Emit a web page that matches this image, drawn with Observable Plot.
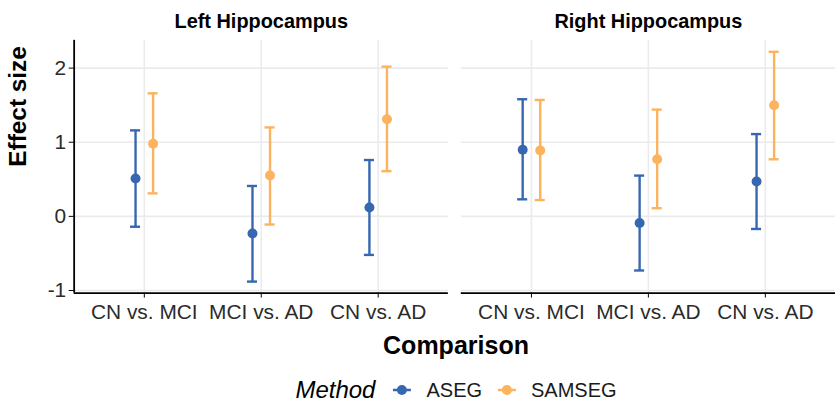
<!DOCTYPE html>
<html>
<head>
<meta charset="utf-8">
<script src="https://cdn.jsdelivr.net/npm/d3@7"></script>
<script src="https://cdn.jsdelivr.net/npm/@observablehq/plot@0.6"></script>
<style>
  html, body { margin: 0; padding: 0; background: #fff; overflow: hidden; }
  #wrap { position: relative; width: 835px; height: 402px; overflow: hidden;
          font-family: "Liberation Sans", Arial, Helvetica, sans-serif; color: #000; }
  #chart { position: absolute; left: 0; top: 0; }
  #xlabel { position: absolute; top: 333px; left: 456px; transform: translateX(-50%);
            font-size: 25px; font-weight: bold; line-height: 1; white-space: nowrap; }
  #legend { position: absolute; top: 380px; left: 456px; transform: translateX(-50%);
            display: flex; align-items: center; height: 20px; white-space: nowrap; }
  #legend .title { font-size: 24px; font-style: italic; line-height: 20px; margin-right: 15px; padding-right: 2px; }
  #legend .label { font-size: 20px; line-height: 20px; color: #1a1a1a; }
  #legend svg { display: block; margin-right: 15px; }
  #legend .gap { width: 15px; }
</style>
</head>
<body>
<div id="wrap">
  <div id="chart"></div>
  <div id="xlabel"></div>
  <div id="legend"></div>
</div>
<script>
// Facet panels, comparisons and segmentation methods
const panels = ["Left Hippocampus", "Right Hippocampus"];
const comparisons = ["CN vs. MCI", "MCI vs. AD", "CN vs. AD"];
const methods = ["ASEG", "SAMSEG"];
const methodColors = ["#3767b1", "#fbb35d"];

// Effect sizes with lower / upper interval bounds, per comparison
const leftAsegEst = [0.51, -0.23, 0.12];
const leftAsegLo = [-0.14, -0.88, -0.52];
const leftAsegHi = [1.16, 0.41, 0.76];
const leftSamsegEst = [0.98, 0.55, 1.31];
const leftSamsegLo = [0.31, -0.11, 0.61];
const leftSamsegHi = [1.66, 1.20, 2.02];

const rightAsegEst = [0.90, -0.09, 0.47];
const rightAsegLo = [0.23, -0.73, -0.17];
const rightAsegHi = [1.58, 0.55, 1.11];
const rightSamsegEst = [0.89, 0.77, 1.50];
const rightSamsegLo = [0.22, 0.11, 0.77];
const rightSamsegHi = [1.57, 1.44, 2.22];

const yTicks = [-1, 0, 1, 2];
const xTitle = "Comparison";
const yTitle = "Effect size";
const legendTitle = "Method";

// Long table built from the arrays above
const series = [
  {panel: panels[0], method: methods[0], est: leftAsegEst, lo: leftAsegLo, hi: leftAsegHi},
  {panel: panels[0], method: methods[1], est: leftSamsegEst, lo: leftSamsegLo, hi: leftSamsegHi},
  {panel: panels[1], method: methods[0], est: rightAsegEst, lo: rightAsegLo, hi: rightAsegHi},
  {panel: panels[1], method: methods[1], est: rightSamsegEst, lo: rightSamsegLo, hi: rightSamsegHi}
];
const rows = series.flatMap(s => comparisons.map((c, i) => ({
  panel: s.panel, method: s.method, comparison: c, index: i,
  est: s.est[i], lo: s.lo[i], hi: s.hi[i]
})));

// Discrete x positions with ggplot-like expansion, dodge and error-bar cap width
const dodge = 0.075;
const capHalf = 0.043;
const xpos = d => d.index + (methods.indexOf(d.method) === 0 ? -dodge : dodge);

// y domain: data range expanded by 5% on each side
const yMin = d3.min(rows, d => d.lo), yMax = d3.max(rows, d => d.hi);
const yPad = (yMax - yMin) * 0.05;
const yDomain = [yMin - yPad, yMax + yPad];

const font = '"Liberation Sans", Arial, Helvetica, sans-serif';

const marks = [
  Plot.gridX({ticks: [0, 1, 2], stroke: "#ebebeb", strokeOpacity: 1, strokeWidth: 1.6}),
  Plot.gridY({ticks: yTicks, stroke: "#ebebeb", strokeOpacity: 1, strokeWidth: 1.6})
];

methods.forEach((m, k) => {
  const data = rows.filter(d => d.method === m);
  const color = methodColors[k];
  marks.push(
    Plot.ruleX(data, {x: xpos, y1: "lo", y2: "hi", fx: "panel", stroke: color, strokeWidth: 2.4}),
    Plot.ruleY(data, {y: "hi", x1: d => xpos(d) - capHalf, x2: d => xpos(d) + capHalf, fx: "panel", stroke: color, strokeWidth: 2.4}),
    Plot.ruleY(data, {y: "lo", x1: d => xpos(d) - capHalf, x2: d => xpos(d) + capHalf, fx: "panel", stroke: color, strokeWidth: 2.4}),
    Plot.dot(data, {x: xpos, y: "est", fx: "panel", r: 5, fill: color, stroke: "none"})
  );
});

marks.push(
  // axis lines: bottom on every panel, left on the first panel only
  Plot.ruleY([yDomain[0]], {stroke: "#000", strokeWidth: 1.8}),
  Plot.ruleX([{panel: panels[0]}], {x: () => -0.6, fx: "panel", stroke: "#000", strokeWidth: 1.8}),
  Plot.axisX({ticks: [0, 1, 2], tickFormat: i => comparisons[i], tickSize: 5, tickPadding: 6,
              fontSize: 21, label: null, stroke: "#000", fill: "#2b2b2b"}),
  Plot.axisY({ticks: yTicks, tickFormat: d => d, tickSize: 5, tickPadding: 3,
              fontSize: 21, label: null, stroke: "#000", fill: "#2b2b2b"}),
  // panel strip titles
  Plot.text(panels, {fx: d => d, text: d => d, frameAnchor: "top", dy: -19, lineAnchor: "middle",
                     fontWeight: "bold", fontSize: 20, fill: "#000"}),
  // y axis title
  Plot.text([yTitle], {fx: () => panels[0], text: d => d, frameAnchor: "left", rotate: -90,
                       dx: -56, lineAnchor: "middle", fontWeight: "bold", fontSize: 24.5, fill: "#000"})
);

const chart = Plot.plot({
  width: 839,
  height: 330,
  marginLeft: 73,
  marginRight: 0,
  marginTop: 40,
  marginBottom: 36,
  style: {fontFamily: font, background: "#fff", overflow: "visible"},
  fx: {domain: panels, padding: 0.034, axis: null, label: null},
  x: {domain: [-0.6, 2.6], axis: null},
  y: {domain: yDomain, axis: null},
  marks
});
document.getElementById("chart").append(chart);

// x axis title
document.getElementById("xlabel").textContent = xTitle;

// legend
const legend = document.getElementById("legend");
const t = document.createElement("span");
t.className = "title";
t.textContent = legendTitle;
legend.append(t);
methods.forEach((m, k) => {
  const sw = d3.create("svg").attr("width", 19).attr("height", 12);
  sw.append("line").attr("x1", 0.5).attr("x2", 18.5).attr("y1", 6).attr("y2", 6)
    .attr("stroke", methodColors[k]).attr("stroke-width", 2.4);
  sw.append("circle").attr("cx", 9.5).attr("cy", 6).attr("r", 5).attr("fill", methodColors[k]);
  legend.append(sw.node());
  const l = document.createElement("span");
  l.className = "label";
  l.textContent = m;
  legend.append(l);
  if (k < methods.length - 1) {
    const g = document.createElement("span");
    g.className = "gap";
    legend.append(g);
  }
});
</script>
</body>
</html>
